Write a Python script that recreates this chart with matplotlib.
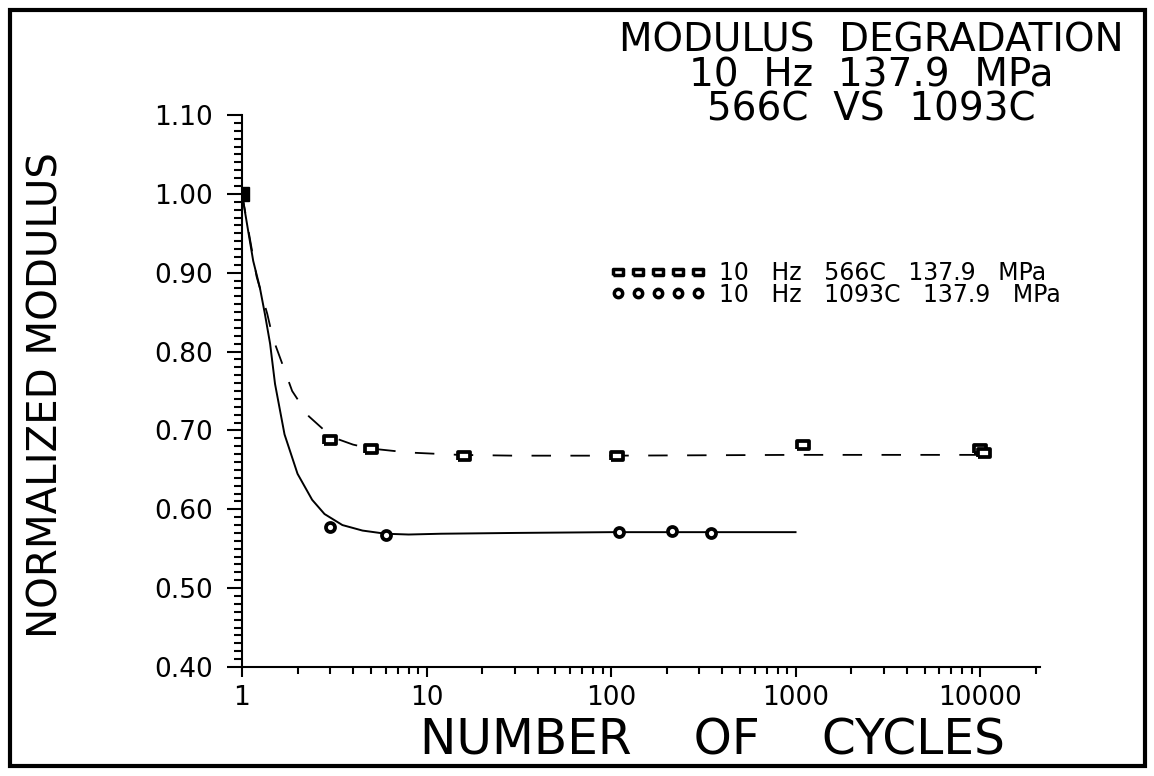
import numpy as np
import matplotlib
matplotlib.use('Agg')
import matplotlib.pyplot as plt
import matplotlib.ticker as ticker
from matplotlib.lines import Line2D
from matplotlib.patches import Rectangle

plt.rcParams['font.family'] = ['DejaVu Sans']
plt.rcParams['lines.scale_dashes'] = False

# measured points
x_566 = [1, 3, 5, 16, 108, 1100, 10000, 10500]
y_566 = [1.00, 0.688, 0.677, 0.668, 0.667, 0.682, 0.676, 0.671]
x_1093 = [1, 3, 6, 110, 215, 350]
y_1093 = [1.00, 0.578, 0.567, 0.571, 0.573, 0.570]

# fitted curves
cx_566 = [1, 1.1, 1.2, 1.37, 1.47, 1.65, 1.87, 2.3, 2.8, 3.3, 4, 5, 8, 15, 30, 100, 1000, 10000]
cy_566 = [1.00, 0.945, 0.895, 0.848, 0.817, 0.785, 0.750, 0.718, 0.700, 0.689, 0.682, 0.677,
          0.672, 0.669, 0.668, 0.668, 0.669, 0.669]
cx_1093 = [1, 1.08, 1.15, 1.25, 1.33, 1.42, 1.51, 1.7, 2.0, 2.4, 2.8, 3.5, 4.5, 6, 8, 12, 30, 100, 1000]
cy_1093 = [1.00, 0.953, 0.915, 0.881, 0.848, 0.810, 0.759, 0.695, 0.645, 0.612, 0.594, 0.580,
           0.573, 0.569, 0.568, 0.569, 0.570, 0.571, 0.571]

xtick_vals = [1, 10, 100, 1000, 10000]
xtick_labels = ['1', '10', '100', '1000', '10000']
ytick_vals = [0.40, 0.50, 0.60, 0.70, 0.80, 0.90, 1.00, 1.10]

rect = [(-1, -0.6), (1, -0.6), (1, 0.6), (-1, 0.6), (-1, -0.6)]

fig = plt.figure(figsize=(11.54, 7.76), dpi=100)
ax = fig.add_axes([242/1154, 1 - 667/776, 798/1154, 552/776])

ax.plot(cx_566, cy_566, color='black', lw=1.3, dashes=(14, 14))
ax.plot(cx_1093, cy_1093, color='black', lw=1.4)
ax.plot(x_566, y_566, linestyle='none', marker=rect, ms=8.5, mfc='white', mec='black', mew=2.7)
ax.plot(x_1093, y_1093, linestyle='none', marker='o', ms=6.5, mfc='white', mec='black', mew=2.7)
# the first point is drawn solid
ax.plot(x_566[0], y_566[0], marker='s', ms=10, color='black')

ax.set_xscale('log')
ax.set_xlim(1, 21130)
ax.set_ylim(0.40, 1.10)
ax.set_xticks(xtick_vals)
ax.set_xticklabels(xtick_labels)
ax.xaxis.set_minor_locator(ticker.LogLocator(base=10, subs=np.arange(2, 10)))
ax.xaxis.set_minor_formatter(ticker.NullFormatter())
ax.set_yticks(ytick_vals)
ax.set_yticklabels([f'{v:.2f}' for v in ytick_vals])
ax.yaxis.set_minor_locator(ticker.MultipleLocator(0.01))

ax.spines['top'].set_visible(False)
ax.spines['right'].set_visible(False)
ax.spines['left'].set_linewidth(1.5)
ax.spines['bottom'].set_linewidth(1.5)
ax.tick_params(which='major', direction='out', length=11, width=1.5, labelsize=19, pad=10)
ax.tick_params(which='minor', direction='out', length=6, width=1.5)
ax.tick_params(axis='x', which='minor', length=5)
ax.tick_params(axis='x', which='major', length=7, pad=6)

ax.set_xlabel('NUMBER    OF    CYCLES', fontsize=35)
ax.xaxis.set_label_coords(0.589, -0.09)
ax.set_ylabel('NORMALIZED MODULUS', fontsize=29)
ax.yaxis.set_label_coords(-0.22, 0.493)

fig.text(0.755, 0.972, 'MODULUS  DEGRADATION\n10  Hz  137.9  MPa\n566C  VS  1093C',
         ha='center', va='top', fontsize=28, linespacing=0.88)

h1 = Line2D([], [], linestyle='none', marker=rect, ms=7.5, mfc='white', mec='black', mew=2.5)
h2 = Line2D([], [], linestyle='none', marker='o', ms=6, mfc='white', mec='black', mew=2.5)
leg = ax.legend([h1, h2], ['10   Hz   566C   137.9   MPa', '10   Hz   1093C   137.9   MPa'],
                numpoints=5, handlelength=4.0, frameon=False, fontsize=17,
                loc='upper left', bbox_to_anchor=(0.447, 0.757), labelspacing=-0.1,
                handletextpad=0.6, borderpad=0)

fig.patches.append(Rectangle((10/1154, 10/776), 1135/1154, 756/776, transform=fig.transFigure,
                             fill=False, lw=3, edgecolor='black'))

fig.savefig('out.png', dpi=100)
